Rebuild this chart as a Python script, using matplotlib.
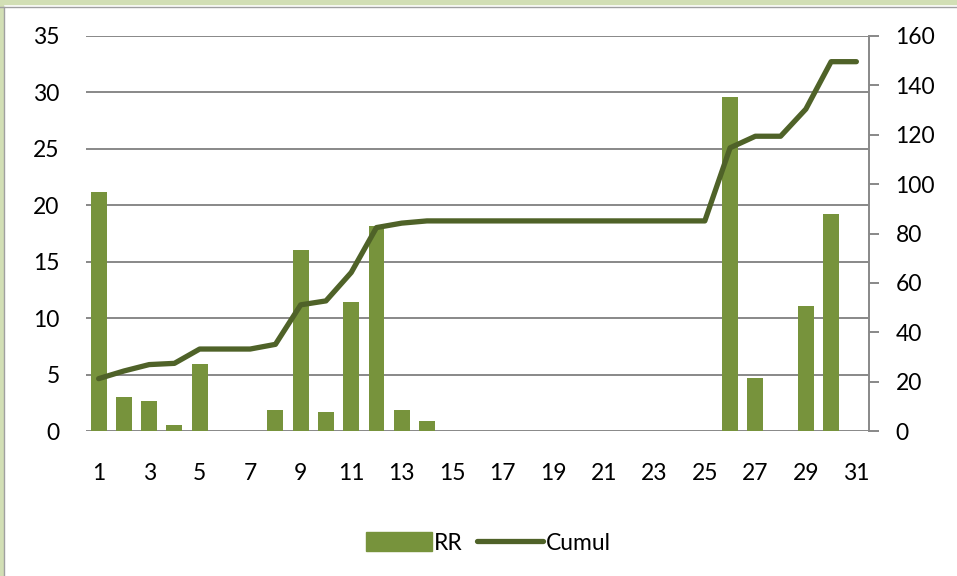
import numpy as np
import matplotlib
matplotlib.use("Agg")
import matplotlib.pyplot as plt
from matplotlib.patches import Rectangle
from matplotlib.lines import Line2D

days = list(range(1, 32))
rr = [21.2, 3.0, 2.7, 0.5, 5.9, 0, 0, 1.9, 16.0, 1.7, 11.4, 18.2, 1.9, 0.9,
      0, 0, 0, 0, 0, 0, 0, 0, 0, 0, 0, 29.6, 4.7, 0, 11.1, 19.2, 0]
cumul = [21.2, 24.3, 26.9, 27.4, 33.2, 33.2, 33.2, 35.1, 51.1, 52.7, 64.2, 82.4, 84.2, 85.1,
         85.1, 85.1, 85.1, 85.1, 85.1, 85.1, 85.1, 85.1, 85.1, 85.1, 85.1,
         114.7, 119.4, 119.4, 130.4, 149.6, 149.6]
left_ticks = [0, 5, 10, 15, 20, 25, 30, 35]
right_ticks = [0, 20, 40, 60, 80, 100, 120, 140, 160]
x_labels = [str(d) for d in days[::2]]

BAR_COLOR = "#77933C"
LINE_COLOR = "#4F6228"
GRID_COLOR = "#888888"
FS = 16.5

plt.rcParams['font.family'] = ['Lato', 'DejaVu Sans']

fig = plt.figure(figsize=(9.57, 5.76), dpi=100)
ax = fig.add_axes([86/957, 1 - 431/576, (869 - 86)/957, (431 - 36)/576])

x = np.arange(len(days))
ax.bar(x, rr, width=0.63, color=BAR_COLOR, zorder=2)
ax.set_xlim(-0.5, len(days) - 0.5)
ax.set_ylim(0, 35)
ax.set_yticks(left_ticks)
ax.yaxis.grid(True, color=GRID_COLOR, linewidth=1.4, zorder=0)
ax.set_axisbelow(True)
ax.set_xticks(x[::2])
ax.set_xticklabels(x_labels)
ax.tick_params(axis='x', length=0, pad=23, labelsize=FS)
ax.tick_params(axis='y', length=0, pad=19, labelsize=FS)
for s in ['top', 'left', 'right', 'bottom']:
    ax.spines[s].set_visible(False)

ax2 = ax.twinx()
ax2.plot(x, cumul, color=LINE_COLOR, linewidth=3.8, solid_capstyle='round',
         solid_joinstyle='round', zorder=3)
ax2.set_ylim(0, 160)
ax2.set_yticks(right_ticks)
ax2.tick_params(axis='y', length=7, width=1.4, color=GRID_COLOR, pad=12, labelsize=FS)
for s in ['top', 'left', 'bottom']:
    ax2.spines[s].set_visible(False)
ax2.spines['right'].set_color(GRID_COLOR)
ax2.spines['right'].set_linewidth(1.4)

handles = [Rectangle((0, 0), 1, 1, color=BAR_COLOR),
           Line2D([0], [0], color=LINE_COLOR, linewidth=3.8, solid_capstyle='round')]
fig.legend(handles, ["RR", "Cumul"], loc='center', bbox_to_anchor=(0.51, 0.057),
           ncol=2, frameon=False, fontsize=FS, handlelength=2.9, handleheight=0.9,
           handletextpad=0.1, columnspacing=0.6)

# window frame
fig.patches.append(Rectangle((0, 1 - 4/576), 1, 4/576, transform=fig.transFigure,
                             color="#D2DFB5", zorder=0))
fig.add_artist(Line2D([0, 1], [1 - 7/576, 1 - 7/576], transform=fig.transFigure,
                      color="#A0A0A0", linewidth=1))
fig.patches.append(Rectangle((0, 0), 3/957, 1, transform=fig.transFigure,
                             color="#D2DFB5", zorder=0))
fig.add_artist(Line2D([4/957, 4/957], [0, 1 - 7/576], transform=fig.transFigure,
                      color="#A0A0A0", linewidth=1))

fig.savefig("out.png", dpi=100)
